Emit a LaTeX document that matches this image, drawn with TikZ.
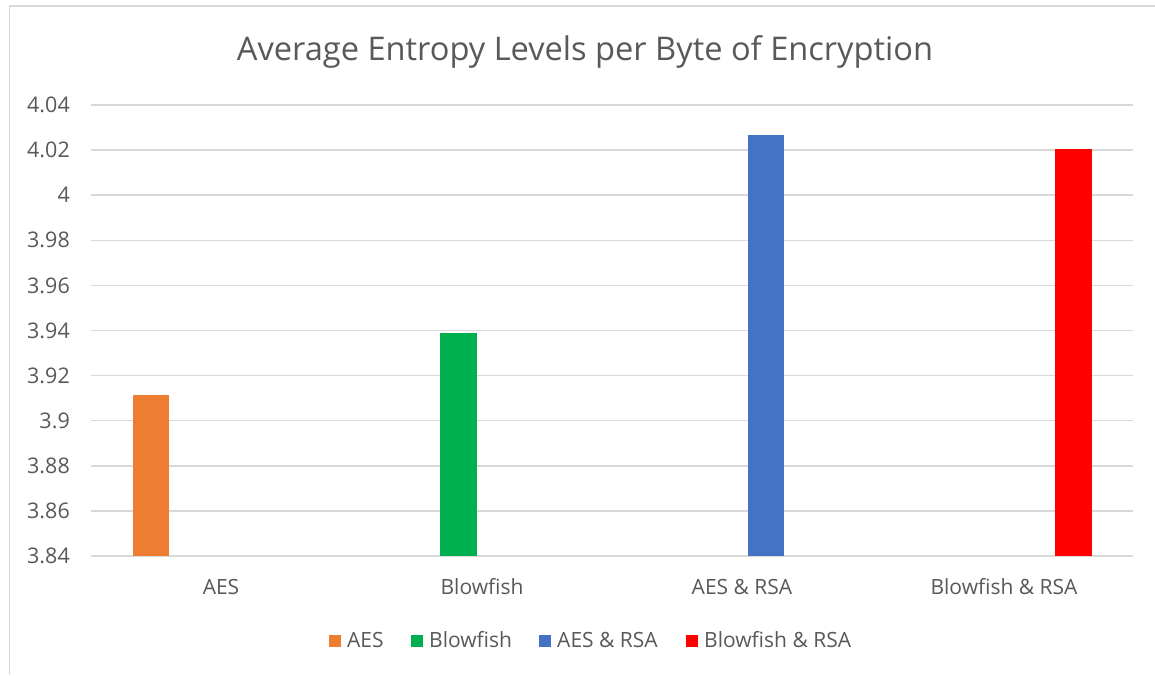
\documentclass[tikz,border=0pt]{standalone}
\usepackage{fontspec}
\setmainfont{Open Sans}
\definecolor{txt}{HTML}{595959}
\definecolor{grid}{HTML}{D9D9D9}
\definecolor{cAES}{HTML}{ED7D31}
\definecolor{cBF}{HTML}{00B050}
\definecolor{cAR}{HTML}{4472C4}
\definecolor{cBR}{HTML}{FF0000}
\tikzset{
  gridline/.style={draw=grid, line width=1.5pt},
  frameline/.style={draw=grid, line width=1.6pt},
  ylab/.style={anchor=east, text=txt, font=\fontsize{21.5}{25}\selectfont, inner sep=0pt},
  xlab/.style={anchor=center, text=txt, font=\fontsize{21}{25}\selectfont, inner sep=0pt},
  leglab/.style={anchor=west, text=txt, font=\fontsize{21}{25}\selectfont, inner sep=0pt},
  legsq/.style={minimum size=12pt, inner sep=0pt, anchor=center}
}
\begin{document}
\begin{tikzpicture}[x=1pt,y=-1pt]
\useasboundingbox (0,0) rectangle (1155,675);
\fill[white] (0,0) rectangle (1155,675);
% frame
\draw[frameline] (9.5,675) -- (9.5,6) -- (1155,6);
% title
\node[text=txt, font=\fontsize{32.6}{38}\selectfont, inner sep=0pt, anchor=center] (title) at (585,52) {Average Entropy Levels per Byte of Encryption};
% gridlines and y labels
\foreach \i/\lab in {0/4.04,1/4.02,2/4,3/3.98,4/3.96,5/3.94,6/3.92,7/3.9,8/3.88,9/3.86,10/3.84}{
  \pgfmathsetmacro{\yy}{105+45.1*\i}
  \draw[gridline] (91,\yy) -- (1133,\yy);
  \node[ylab] (y\i) at (70,\yy) {\lab};
}
% bars
\fill[cAES] (133,556) rectangle (169,394.8);
\fill[cBF] (440,556) rectangle (477,332.8);
\fill[cAR] (748,556) rectangle (784,135.4);
\fill[cBR] (1055,556) rectangle (1092,149);
% category labels
\node[xlab] (c1) at (221,587) {AES};
\node[xlab] (c2) at (482,587) {Blowfish};
\node[xlab] (c3) at (742,587) {AES \& RSA};
\node[xlab] (c4) at (1004,587) {Blowfish \& RSA};
% legend
\node[legsq, fill=cAES] (l1) at (335,640.5) {};
\node[leglab] (t1) at (347,640) {AES};
\node[legsq, fill=cBF] (l2) at (417,640.5) {};
\node[leglab] (t2) at (429,640) {Blowfish};
\node[legsq, fill=cAR] (l3) at (545,640.5) {};
\node[leglab] (t3) at (557,640) {AES \& RSA};
\node[legsq, fill=cBR] (l4) at (692,640.5) {};
\node[leglab] (t4) at (704,640) {Blowfish \& RSA};
\end{tikzpicture}
\end{document}
